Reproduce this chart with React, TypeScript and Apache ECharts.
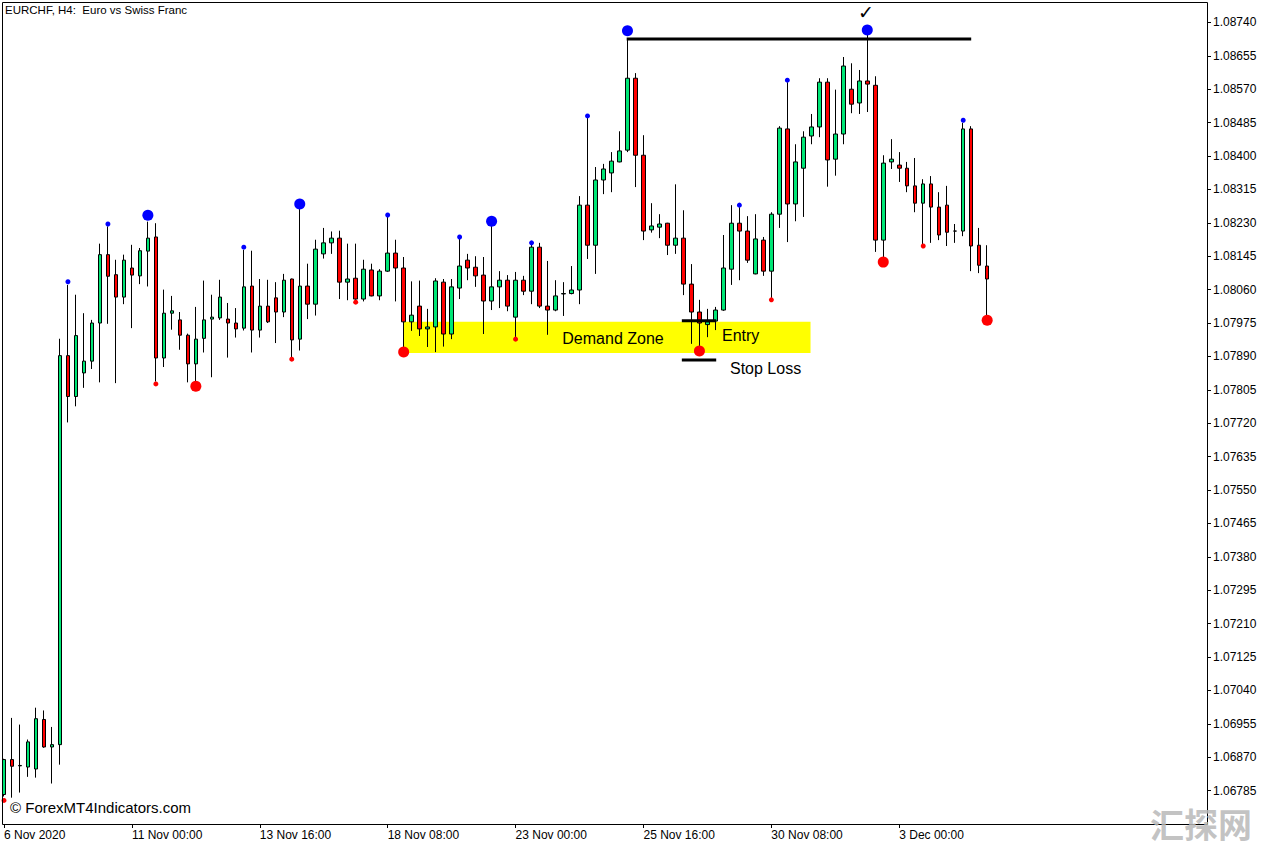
import React, { useEffect, useRef } from "react";
import * as echarts from "echarts";

// ---------- DATA (EURCHF H4) ----------
const opens = [
  1.06775, 1.06864, 1.06848, 1.06845, 1.06840, 1.06966, 1.06896, 1.06902, 1.07892, 1.07788,
  1.07848, 1.07878, 1.07975, 1.08149, 1.08098, 1.08041, 1.08115, 1.08095, 1.08158, 1.08194,
  1.07886, 1.08000, 1.07983, 1.07944, 1.07871, 1.07936, 1.07985, 1.07988, 1.07985, 1.07975,
  1.07962, 1.08069, 1.07957, 1.08018, 1.08039, 1.08003, 1.08087, 1.07934, 1.08069, 1.08023,
  1.08151, 1.08179, 1.08191, 1.08079, 1.08089, 1.08036, 1.08110, 1.08044, 1.08107, 1.08153,
  1.08115, 1.07978, 1.08018, 1.07960, 1.07965, 1.08079, 1.07947, 1.08064, 1.08135, 1.08117,
  1.08097, 1.08031, 1.08067, 1.08084, 1.07990, 1.08084, 1.08056, 1.08168, 1.08018, 1.08008,
  1.08049, 1.08050, 1.08059, 1.08275, 1.08173, 1.08339, 1.08357, 1.08385, 1.08415, 1.08598,
  1.08402, 1.08212, 1.08219, 1.08229, 1.08173, 1.08191, 1.08074, 1.08003, 1.07971, 1.07980,
  1.08008, 1.08112, 1.08229, 1.08209, 1.08100, 1.08186, 1.08107, 1.08252, 1.08469, 1.08278,
  1.08369, 1.08451, 1.08474, 1.08588, 1.08392, 1.08456, 1.08570, 1.08535, 1.08591, 1.08580,
  1.08186, 1.08385, 1.08377, 1.08369, 1.08324, 1.08280, 1.08329, 1.08270, 1.08275, 1.08209,
  1.08209, 1.08469, 1.08173, 1.08120,
];
const highs = [
  1.06866, 1.06970, 1.06953, 1.06915, 1.06996, 1.06989, 1.06947, 1.07935, 1.08072, 1.08047,
  1.08000, 1.07983, 1.08177, 1.08221, 1.08136, 1.08149, 1.08174, 1.08166, 1.08233, 1.08229,
  1.08060, 1.08044, 1.08003, 1.07948, 1.08016, 1.08083, 1.08047, 1.08085, 1.08026, 1.08013,
  1.08161, 1.08159, 1.08087, 1.08085, 1.08079, 1.08100, 1.08088, 1.08265, 1.08126, 1.08187,
  1.08217, 1.08208, 1.08210, 1.08177, 1.08177, 1.08136, 1.08126, 1.08112, 1.08246, 1.08187,
  1.08143, 1.08081, 1.08083, 1.08011, 1.08089, 1.08087, 1.08087, 1.08191, 1.08151, 1.08145,
  1.08143, 1.08223, 1.08107, 1.08097, 1.08105, 1.08095, 1.08177, 1.08179, 1.08133, 1.08084,
  1.08079, 1.08120, 1.08298, 1.08497, 1.08372, 1.08380, 1.08410, 1.08463, 1.08700, 1.08611,
  1.08453, 1.08280, 1.08252, 1.08230, 1.08328, 1.08262, 1.08125, 1.08034, 1.08011, 1.08016,
  1.08199, 1.08275, 1.08270, 1.08247, 1.08252, 1.08194, 1.08257, 1.08476, 1.08588, 1.08430,
  1.08463, 1.08507, 1.08598, 1.08598, 1.08569, 1.08652, 1.08636, 1.08619, 1.08708, 1.08603,
  1.08402, 1.08443, 1.08410, 1.08385, 1.08395, 1.08341, 1.08349, 1.08308, 1.08324, 1.08227,
  1.08484, 1.08476, 1.08217, 1.08173,
];
const lows = [
  1.06770, 1.06767, 1.06780, 1.06820, 1.06818, 1.06894, 1.06803, 1.06851, 1.07722, 1.07763,
  1.07810, 1.07858, 1.07824, 1.07973, 1.07822, 1.08023, 1.07962, 1.08074, 1.08068, 1.07826,
  1.07863, 1.07958, 1.07907, 1.07824, 1.07826, 1.07900, 1.07837, 1.07983, 1.07887, 1.07938,
  1.07956, 1.07900, 1.07938, 1.07975, 1.07924, 1.07990, 1.07886, 1.07905, 1.07985, 1.07994,
  1.08139, 1.08151, 1.08036, 1.08033, 1.08034, 1.08030, 1.08043, 1.08033, 1.08105, 1.08030,
  1.07911, 1.07955, 1.07942, 1.07914, 1.07901, 1.07915, 1.07934, 1.08036, 1.08084, 1.08067,
  1.07947, 1.08008, 1.08013, 1.08005, 1.07937, 1.08046, 1.08023, 1.08013, 1.07945, 1.08005,
  1.07993, 1.08048, 1.08023, 1.08138, 1.08100, 1.08303, 1.08308, 1.08384, 1.08410, 1.08321,
  1.08186, 1.08205, 1.08191, 1.08148, 1.08151, 1.08046, 1.07922, 1.07911, 1.07939, 1.07957,
  1.08006, 1.08072, 1.08084, 1.08128, 1.08099, 1.08095, 1.08036, 1.08217, 1.08181, 1.08234,
  1.08245, 1.08430, 1.08448, 1.08322, 1.08350, 1.08430, 1.08509, 1.08507, 1.08512, 1.08156,
  1.08143, 1.08367, 1.08334, 1.08308, 1.08257, 1.08176, 1.08179, 1.08186, 1.08171, 1.08179,
  1.08196, 1.08107, 1.08102, 1.07992,
];
const closes = [
  1.06864, 1.06847, 1.06849, 1.06909, 1.06968, 1.06896, 1.06902, 1.07892, 1.07788, 1.07943,
  1.07878, 1.07975, 1.08149, 1.08094, 1.08041, 1.08135, 1.08097, 1.08159, 1.08191, 1.07886,
  1.08000, 1.08006, 1.07944, 1.07871, 1.07934, 1.07983, 1.07990, 1.08041, 1.07975, 1.07960,
  1.08067, 1.07957, 1.08018, 1.07978, 1.08003, 1.08084, 1.07932, 1.08069, 1.08023, 1.08163,
  1.08179, 1.08191, 1.08079, 1.08087, 1.08036, 1.08112, 1.08044, 1.08107, 1.08153, 1.08115,
  1.07978, 1.07995, 1.07960, 1.07965, 1.08082, 1.07947, 1.08067, 1.08120, 1.08115, 1.08095,
  1.08031, 1.08067, 1.08084, 1.08018, 1.08084, 1.08056, 1.08168, 1.08018, 1.08008, 1.08044,
  1.08050, 1.08059, 1.08275, 1.08173, 1.08339, 1.08367, 1.08387, 1.08413, 1.08598, 1.08402,
  1.08209, 1.08222, 1.08227, 1.08173, 1.08191, 1.08074, 1.08003, 1.07975, 1.07978, 1.08008,
  1.08115, 1.08229, 1.08209, 1.08135, 1.08189, 1.08107, 1.08252, 1.08471, 1.08278, 1.08385,
  1.08448, 1.08474, 1.08588, 1.08390, 1.08456, 1.08629, 1.08532, 1.08591, 1.08583, 1.08186,
  1.08382, 1.08392, 1.08369, 1.08324, 1.08280, 1.08329, 1.08270, 1.08199, 1.08206, 1.08209,
  1.08469, 1.08171, 1.08122, 1.08087,
];

// fractal markers: [bar index, price]
const fractalHighBig = [[18, 1.08249], [37, 1.08278], [61, 1.08234], [78, 1.08719], [108, 1.08721]];
const fractalHighSmall = [
  [8, 1.0808], [13, 1.08227], [30, 1.08168], [48, 1.0825], [57, 1.08194],
  [66, 1.08179], [73, 1.08502], [92, 1.08275], [98, 1.08593], [120, 1.08491],
];
const fractalLowBig = [[24, 1.07814], [50, 1.07901], [87, 1.07904], [110, 1.0813], [123, 1.07982]];
const fractalLowSmall = [[0, 1.0676], [19, 1.0782], [36, 1.07883], [44, 1.08028], [64, 1.07934], [96, 1.08034], [115, 1.08171]];

// annotations (bar positions, prices)
const resistanceBars = [77.9, 121];
const resistancePrice = 1.08698;
const entryBars = [84.8, 89.1];
const entryPrice = 1.07981;
const stopPrice = 1.07881;
const zoneBars = [50, 100.9];
const zonePrices = [1.07899, 1.07978];

const TOTAL_SLOTS = 151;
const LABEL_EVERY = 16;
const MONTHS = ["Jan", "Feb", "Mar", "Apr", "May", "Jun", "Jul", "Aug", "Sep", "Oct", "Nov", "Dec"];

function buildTimes(count: number): string[] {
  const out: string[] = [];
  let t = Date.UTC(2020, 10, 6, 8, 0);
  while (out.length < count) {
    const d = new Date(t);
    const wd = d.getUTCDay();
    if (wd !== 0 && wd !== 6) {
      const hh = String(d.getUTCHours()).padStart(2, "0");
      if (out.length === 0) out.push(`${d.getUTCDate()} ${MONTHS[d.getUTCMonth()]} ${d.getUTCFullYear()}`);
      else out.push(`${d.getUTCDate()} ${MONTHS[d.getUTCMonth()]} ${hh}:00`);
    }
    t += 4 * 3600 * 1000;
  }
  return out;
}

const GREEN = "#00E676";
const RED = "#FF0000";
const FONT = "'Liberation Sans', Arial, sans-serif";

export default function App() {
  const ref = useRef<HTMLDivElement>(null);
  useEffect(() => {
    document.body.style.margin = "0";
    if (!ref.current) return;
    const chart = echarts.init(ref.current, undefined, { renderer: "svg" });
    const times = buildTimes(TOTAL_SLOTS);
    const nBars = opens.length;
    const ohlc = opens.map((o, i) => [o, closes[i], lows[i], highs[i]]);
    const showAt = (i: number) => i % LABEL_EVERY === 0 && i < nBars;

    chart.setOption({
      animation: false,
      backgroundColor: "#ffffff",
      grid: { left: -1, top: 2, width: 1208, height: 822 },
      xAxis: [
        {
          type: "category",
          data: times,
          boundaryGap: true,
          axisLine: { show: false, onZero: false },
          splitLine: { show: false },
          axisTick: { show: true, alignWithLabel: true, interval: (i: number) => showAt(i), length: 4, lineStyle: { color: "#000" } },
          axisLabel: { interval: (i: number) => showAt(i), align: "left", margin: 5, color: "#000", fontSize: 12, fontFamily: FONT },
        },
        { type: "value", min: -0.5, max: TOTAL_SLOTS - 0.5, show: false, axisLine: { onZero: false } },
      ],
      yAxis: {
        type: "value",
        position: "right",
        min: 1.067,
        max: 1.08792,
        interval: 0.00085,
        axisLine: { show: false, onZero: false },
        splitLine: { show: false },
        axisTick: { show: true, length: 4, lineStyle: { color: "#000" } },
        axisLabel: {
          showMinLabel: false,
          showMaxLabel: false,
          margin: 6,
          color: "#000",
          fontSize: 12,
          fontFamily: FONT,
          formatter: (v: number) => v.toFixed(5),
        },
      },
      series: [
        {
          type: "line",
          xAxisIndex: 1,
          data: [],
          z: 1,
          markArea: {
            silent: true,
            itemStyle: { color: "#FFFF00", opacity: 1 },
            data: [[{ coord: [zoneBars[0], zonePrices[1]] }, { coord: [zoneBars[1], zonePrices[0]] }]],
          },
        },
        {
          type: "candlestick",
          data: ohlc,
          barWidth: 4,
          z: 3,
          itemStyle: { color: GREEN, color0: RED, borderColor: "#000", borderColor0: "#000", borderWidth: 1 },
        },
        { type: "scatter", data: fractalHighBig, symbolSize: 11, itemStyle: { color: "#0000FF", opacity: 1 }, z: 4 },
        { type: "scatter", data: fractalHighSmall, symbolSize: 5, itemStyle: { color: "#0000FF", opacity: 1 }, z: 4 },
        { type: "scatter", data: fractalLowBig, symbolSize: 11, itemStyle: { color: RED, opacity: 1 }, z: 4 },
        { type: "scatter", data: fractalLowSmall, symbolSize: 5, itemStyle: { color: RED, opacity: 1 }, z: 4 },
        {
          type: "line", xAxisIndex: 1, symbol: "none", z: 5,
          lineStyle: { color: "#000", width: 3 },
          data: [[resistanceBars[0], resistancePrice], [resistanceBars[1], resistancePrice]],
        },
        {
          type: "line", xAxisIndex: 1, symbol: "none", z: 5,
          lineStyle: { color: "#000", width: 3 },
          data: [[entryBars[0], entryPrice], [entryBars[1], entryPrice]],
        },
        {
          type: "line", xAxisIndex: 1, symbol: "none", z: 5,
          lineStyle: { color: "#000", width: 3 },
          data: [[entryBars[0], stopPrice], [entryBars[1], stopPrice]],
        },
      ],
      graphic: [
        { type: "rect", shape: { x: 2.5, y: 2.5, width: 1205, height: 822 }, style: { fill: "none", stroke: "#000", lineWidth: 1 }, z: 10, silent: true },
        { type: "text", left: 5, top: 4, style: { text: "EURCHF, H4:  Euro vs Swiss Franc", fill: "#000", font: `11.5px ${FONT}` }, z: 10 },
        { type: "text", x: 10, y: 807, style: { text: "© ForexMT4Indicators.com", fill: "#000", font: `15px ${FONT}`, verticalAlign: "middle" }, z: 10 },
        { type: "text", x: 613, y: 338, style: { text: "Demand Zone", fill: "#000", font: `16px ${FONT}`, align: "center", verticalAlign: "middle" }, z: 10 },
        { type: "text", x: 722, y: 335, style: { text: "Entry", fill: "#000", font: `16px ${FONT}`, align: "left", verticalAlign: "middle" }, z: 10 },
        { type: "text", x: 730, y: 368, style: { text: "Stop Loss", fill: "#000", font: `16px ${FONT}`, align: "left", verticalAlign: "middle" }, z: 10 },
        { type: "text", x: 866, y: 12, style: { text: "✓", fill: "#000", font: `bold 19px 'DejaVu Sans'`, align: "center", verticalAlign: "middle" }, z: 10 },
        { type: "text", x: 1150, y: 823, style: { text: "汇探网", fill: "rgba(185,185,185,0.85)", font: `bold 34px 'Noto Sans CJK SC'`, verticalAlign: "middle" }, z: 11 },
      ],
    });
    return () => chart.dispose();
  }, []);
  return <div ref={ref} style={{ width: 1275, height: 848 }} />;
}
